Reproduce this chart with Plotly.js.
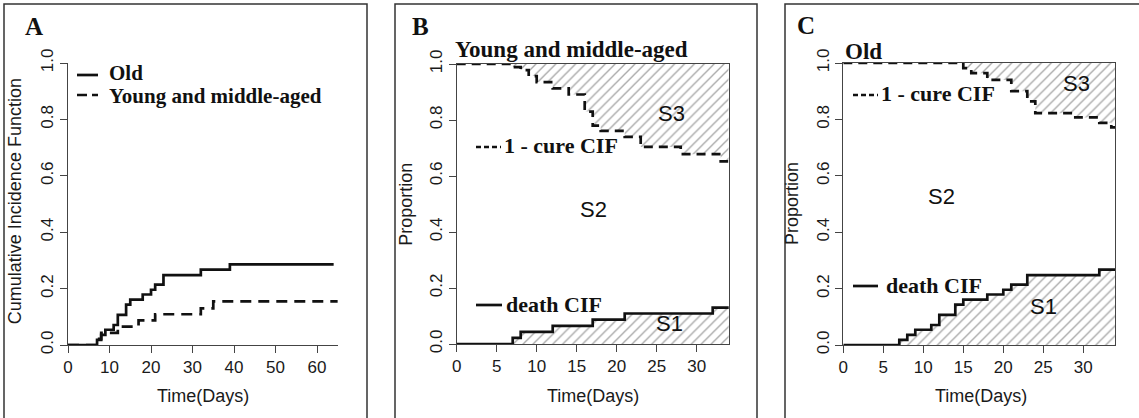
<!DOCTYPE html>
<html>
<head>
<meta charset="utf-8">
<script src="https://cdn.plot.ly/plotly-3.0.1.min.js"></script>
<style>html,body{margin:0;padding:0;background:#fff;}#chart{width:1139px;height:418px;}</style>
</head>
<body>
<div id="chart"></div>
<script>
// ---- data ----
// Old group: death cumulative incidence (panel A solid, panel C solid)
const oldTime = [0, 7, 8, 9, 11, 12, 14, 15, 18, 20, 21, 23, 32, 39, 64];
const oldDeathCIF = [0, 0.018, 0.036, 0.054, 0.071, 0.107, 0.143, 0.161, 0.179, 0.196, 0.214, 0.248, 0.267, 0.286, 0.286];
// Young and middle-aged: death cumulative incidence (panel A dashed, panel B solid)
const youngTime = [0, 7, 8, 12, 17, 21, 32, 35, 65];
const youngDeathCIF = [0, 0.022, 0.043, 0.065, 0.087, 0.109, 0.130, 0.155, 0.155];
// Young and middle-aged: 1 - cure CIF (panel B dashed)
const youngCureTime = [0, 7, 8, 9, 10, 12, 14, 16, 17, 18, 21, 23, 28, 33, 34];
const youngOneMinusCure = [1.0, 0.989, 0.978, 0.957, 0.935, 0.913, 0.891, 0.830, 0.780, 0.761, 0.740, 0.704, 0.678, 0.652, 0.652];
// Old: 1 - cure CIF (panel C dashed)
const oldCureTime = [0, 15, 16, 18, 21, 23, 24, 29, 32, 33.5, 34];
const oldOneMinusCure = [1.0, 0.982, 0.964, 0.940, 0.900, 0.864, 0.822, 0.807, 0.788, 0.772, 0.772];
// upper bound of proportion
const upperTime = [0, 34];
const upperValue = [1, 1];
// tick labels
const ticksA = [0, 10, 20, 30, 40, 50, 60];
const ticksBC = [0, 5, 10, 15, 20, 25, 30];
const ticksY = [0, 0.2, 0.4, 0.6, 0.8, 1.0];

// ---- layout helpers ----
const W = 1139, H = 418;
const fx = p => p / W;
const fy = p => 1 - p / H;
const SANS = 'Liberation Sans, Arial, sans-serif';
const SERIF = 'Liberation Serif, Times New Roman, serif';
const hatch = {shape: '/', size: 7, solidity: 0.2, fgcolor: '#555', bgcolor: 'rgba(255,255,255,0)', fillmode: 'overlay'};

const lineSolid = {color: '#111', width: 2.7, shape: 'hv'};
const lineDash = {color: '#111', width: 2.7, shape: 'hv', dash: '11px,7px'};

const traces = [
  // Panel A
  {x: oldTime, y: oldDeathCIF, xaxis: 'x', yaxis: 'y', mode: 'lines', line: lineSolid, showlegend: false, hoverinfo: 'skip'},
  {x: youngTime, y: youngDeathCIF, xaxis: 'x', yaxis: 'y', mode: 'lines', line: lineDash, showlegend: false, hoverinfo: 'skip'},
  // Panel B
  {x: upperTime, y: upperValue, xaxis: 'x2', yaxis: 'y2', mode: 'lines', line: {width: 0, shape: 'hv'}, showlegend: false, hoverinfo: 'skip'},
  {x: youngCureTime, y: youngOneMinusCure, xaxis: 'x2', yaxis: 'y2', mode: 'lines', line: {color: '#111', width: 2.7, shape: 'hv', dash: '9px,6px'},
   fill: 'tonexty', fillcolor: 'rgba(255,255,255,0)', fillpattern: hatch, showlegend: false, hoverinfo: 'skip'},
  {x: youngTime, y: youngDeathCIF, xaxis: 'x2', yaxis: 'y2', mode: 'lines', line: lineSolid,
   fill: 'tozeroy', fillcolor: 'rgba(255,255,255,0)', fillpattern: hatch, showlegend: false, hoverinfo: 'skip'},
  // Panel C
  {x: upperTime, y: upperValue, xaxis: 'x3', yaxis: 'y3', mode: 'lines', line: {width: 0, shape: 'hv'}, showlegend: false, hoverinfo: 'skip'},
  {x: oldCureTime, y: oldOneMinusCure, xaxis: 'x3', yaxis: 'y3', mode: 'lines', line: {color: '#111', width: 2.7, shape: 'hv', dash: '9px,6px'},
   fill: 'tonexty', fillcolor: 'rgba(255,255,255,0)', fillpattern: hatch, showlegend: false, hoverinfo: 'skip'},
  {x: oldTime, y: oldDeathCIF, xaxis: 'x3', yaxis: 'y3', mode: 'lines', line: lineSolid,
   fill: 'tozeroy', fillcolor: 'rgba(255,255,255,0)', fillpattern: hatch, showlegend: false, hoverinfo: 'skip'}
];

function xAxis(domain, range, ticks, anchor, mirror) {
  return {domain: domain, range: range, anchor: anchor, tickvals: ticks, ticktext: ticks.map(String),
    showline: true, linecolor: '#444', linewidth: 1, mirror: mirror, ticks: 'outside', ticklen: 7, tickwidth: 1, tickcolor: '#444',
    showgrid: false, zeroline: false, fixedrange: true, tickfont: {family: SANS, size: 17, color: '#1a1a1a'}};
}
function yAxis(domain, anchor, mirror) {
  return {domain: domain, range: [0, 1], anchor: anchor, tickvals: ticksY, ticktext: ticksY.map(v => v.toFixed(1)),
    showline: true, linecolor: '#444', linewidth: 1, mirror: mirror, ticks: 'outside', ticklen: 7, tickwidth: 1, tickcolor: '#444',
    tickangle: -90, showgrid: false, zeroline: false, fixedrange: true, tickfont: {family: SANS, size: 17, color: '#1a1a1a'}};
}

function ann(text, px, py, opts) {
  return Object.assign({text: text, x: fx(px), y: fy(py), xref: 'paper', yref: 'paper', showarrow: false,
    xanchor: 'center', yanchor: 'middle', font: {family: SANS, size: 22, color: '#111'}}, opts || {});
}
const legFont = {family: SERIF, size: 22, color: '#111'};
const legFontA = {family: SERIF, size: 21, color: '#111'};
const titleFont = {family: SERIF, size: 23, color: '#111'};
const letterFont = {family: SERIF, size: 25, color: '#111'};
const axFont = {family: SANS, size: 18, color: '#1a1a1a'};

const annotations = [
  ann('<b>A</b>', 34, 26.5, {font: letterFont}),
  ann('<b>B</b>', 420, 26.5, {font: letterFont}),
  ann('<b>C</b>', 806, 26, {font: letterFont}),
  ann('<b>Young and middle-aged</b>', 453, 50, {xanchor: 'left', font: titleFont}),
  ann('<b>Old</b>', 843, 51, {xanchor: 'left', font: titleFont}),
  ann('<b>Old</b>', 108, 73, {xanchor: 'left', font: legFontA, borderpad: 0}),
  ann('<b>Young and middle-aged</b>', 108, 95.5, {xanchor: 'left', font: legFontA, borderpad: 0}),
  ann('<b>1 - cure CIF</b>', 502, 146, {xanchor: 'left', font: legFont}),
  ann('<b>death CIF</b>', 504, 304, {xanchor: 'left', font: legFont}),
  ann('<b>1 - cure CIF</b>', 879, 94, {xanchor: 'left', font: legFont}),
  ann('<b>death CIF</b>', 884, 285, {xanchor: 'left', font: legFont}),
  ann('S3', 671.7, 113),
  ann('S2', 593, 210),
  ann('S1', 669, 323),
  ann('S3', 1076.7, 83.3),
  ann('S2', 941.7, 196.7),
  ann('S1', 1043, 306.7),
  ann('Time(Days)', 202.5, 395.7, {font: axFont}),
  ann('Time(Days)', 592.5, 395.7, {font: axFont}),
  ann('Time(Days)', 981, 395.7, {font: axFont}),
  ann('Cumulative Incidence Function', 15.7, 201.5, {font: axFont, textangle: -90}),
  ann('Proportion', 405.7, 204, {font: axFont, textangle: -90}),
  ann('Proportion', 792, 204, {font: axFont, textangle: -90})
];

function rect(x0, y0, x1, y1) {
  return {type: 'rect', xref: 'paper', yref: 'paper', x0: fx(x0), x1: fx(x1), y0: fy(y1), y1: fy(y0),
    line: {color: '#333', width: 1.5}, fillcolor: 'rgba(0,0,0,0)', layer: 'below'};
}
function seg(x0, x1, y, dash) {
  return {type: 'line', xref: 'paper', yref: 'paper', x0: fx(x0), x1: fx(x1), y0: fy(y), y1: fy(y),
    line: {color: '#111', width: 2.7, dash: dash || 'solid'}};
}
const shapes = [
  rect(4, 4, 367, 425),
  rect(395, 4, 757, 425),
  rect(785, 4, 1145, 425),
  seg(77, 98, 75), seg(77, 98, 95, '10px,5px'),
  seg(476, 501, 147, '5px,3px'), seg(476, 502, 305),
  seg(853, 878, 95, '5px,3px'), seg(853, 878, 286)
];

const layout = {
  width: W, height: H, margin: {l: 0, r: 0, t: 0, b: 0}, paper_bgcolor: '#fff', plot_bgcolor: 'rgba(0,0,0,0)',
  showlegend: false,
  xaxis: xAxis([fx(68), fx(337.8)], [0, 65], ticksA, 'y', false),
  yaxis: yAxis([fy(345), fy(63)], 'x', false),
  xaxis2: xAxis([fx(456.7), fx(728.7)], [0, 34], ticksBC, 'y2', true),
  yaxis2: yAxis([fy(344), fy(64)], 'x2', true),
  xaxis3: xAxis([fx(843.3), fx(1115.3)], [0, 34], ticksBC, 'y3', true),
  yaxis3: yAxis([fy(345), fy(63)], 'x3', true),
  annotations: annotations,
  shapes: shapes
};

Plotly.newPlot('chart', traces, layout, {staticPlot: true, displayModeBar: false});
</script>
</body>
</html>
